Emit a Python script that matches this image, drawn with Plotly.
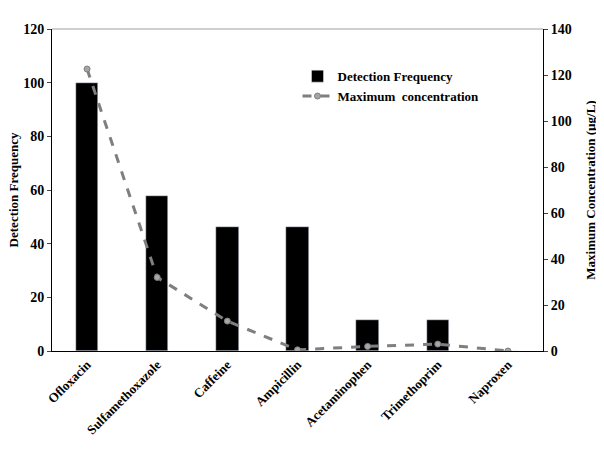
import plotly.graph_objects as go

compounds = ["Ofloxacin", "Sulfamethoxazole", "Caffeine", "Ampicillin",
             "Acetaminophen", "Trimethoprim", "Naproxen"]
detection_freq = [100, 57.7, 46.2, 46.2, 11.5, 11.5, 0]
max_conc = [122.6, 32, 13, 0.5, 2, 3, 0]

font = dict(family="Liberation Serif", size=14, color="black")

fig = go.Figure()
fig.add_trace(go.Bar(x=compounds, y=detection_freq, name="Detection Frequency",
                     marker_color="black", width=0.32))
fig.add_trace(go.Scatter(x=compounds, y=max_conc, name="Maximum  concentration",
                         yaxis="y2", mode="lines+markers",
                         line=dict(color="#7f7f7f", width=3, dash="dash"),
                         marker=dict(color="#a6a6a6", size=6,
                                     line=dict(color="#7f7f7f", width=1))))

fig.update_layout(
    width=604, height=453,
    margin=dict(l=44, r=69, t=21, b=110, autoexpand=False),
    paper_bgcolor="white", plot_bgcolor="white",
    font=font,
    bargap=0,
    xaxis=dict(tickangle=-45, showline=True, linecolor="black", linewidth=1,
               ticks="", automargin=False, tickfont=dict(size=13)),
    yaxis=dict(range=[0, 120], dtick=20, showgrid=False, showline=True,
               linecolor="black", ticks="outside", ticklen=4, zeroline=False,
               automargin=False),
    yaxis2=dict(range=[0, 140], dtick=20, overlaying="y", side="right",
                showgrid=False, showline=True, linecolor="black",
                ticks="outside", ticklen=4, zeroline=False, automargin=False,
                title=dict(text="Maximum Concentration (µg/L)", font=dict(size=13))),
    legend=dict(x=0.5, y=0.9, bgcolor="rgba(0,0,0,0)", font=dict(size=13)),
    shapes=[dict(type="line", xref="paper", yref="paper", x0=0, x1=1, y0=1, y1=1,
                 line=dict(color="#a0a0a0", width=1))],
    annotations=[dict(text="Detection Frequency", xref="paper", yref="paper",
                      x=-0.098, y=0.5, textangle=-90, showarrow=False,
                      font=dict(size=13, color="black"))],
)
fig.update_layout(font_family="Liberation Serif", font_weight="bold")
fig.write_html("out.html")
